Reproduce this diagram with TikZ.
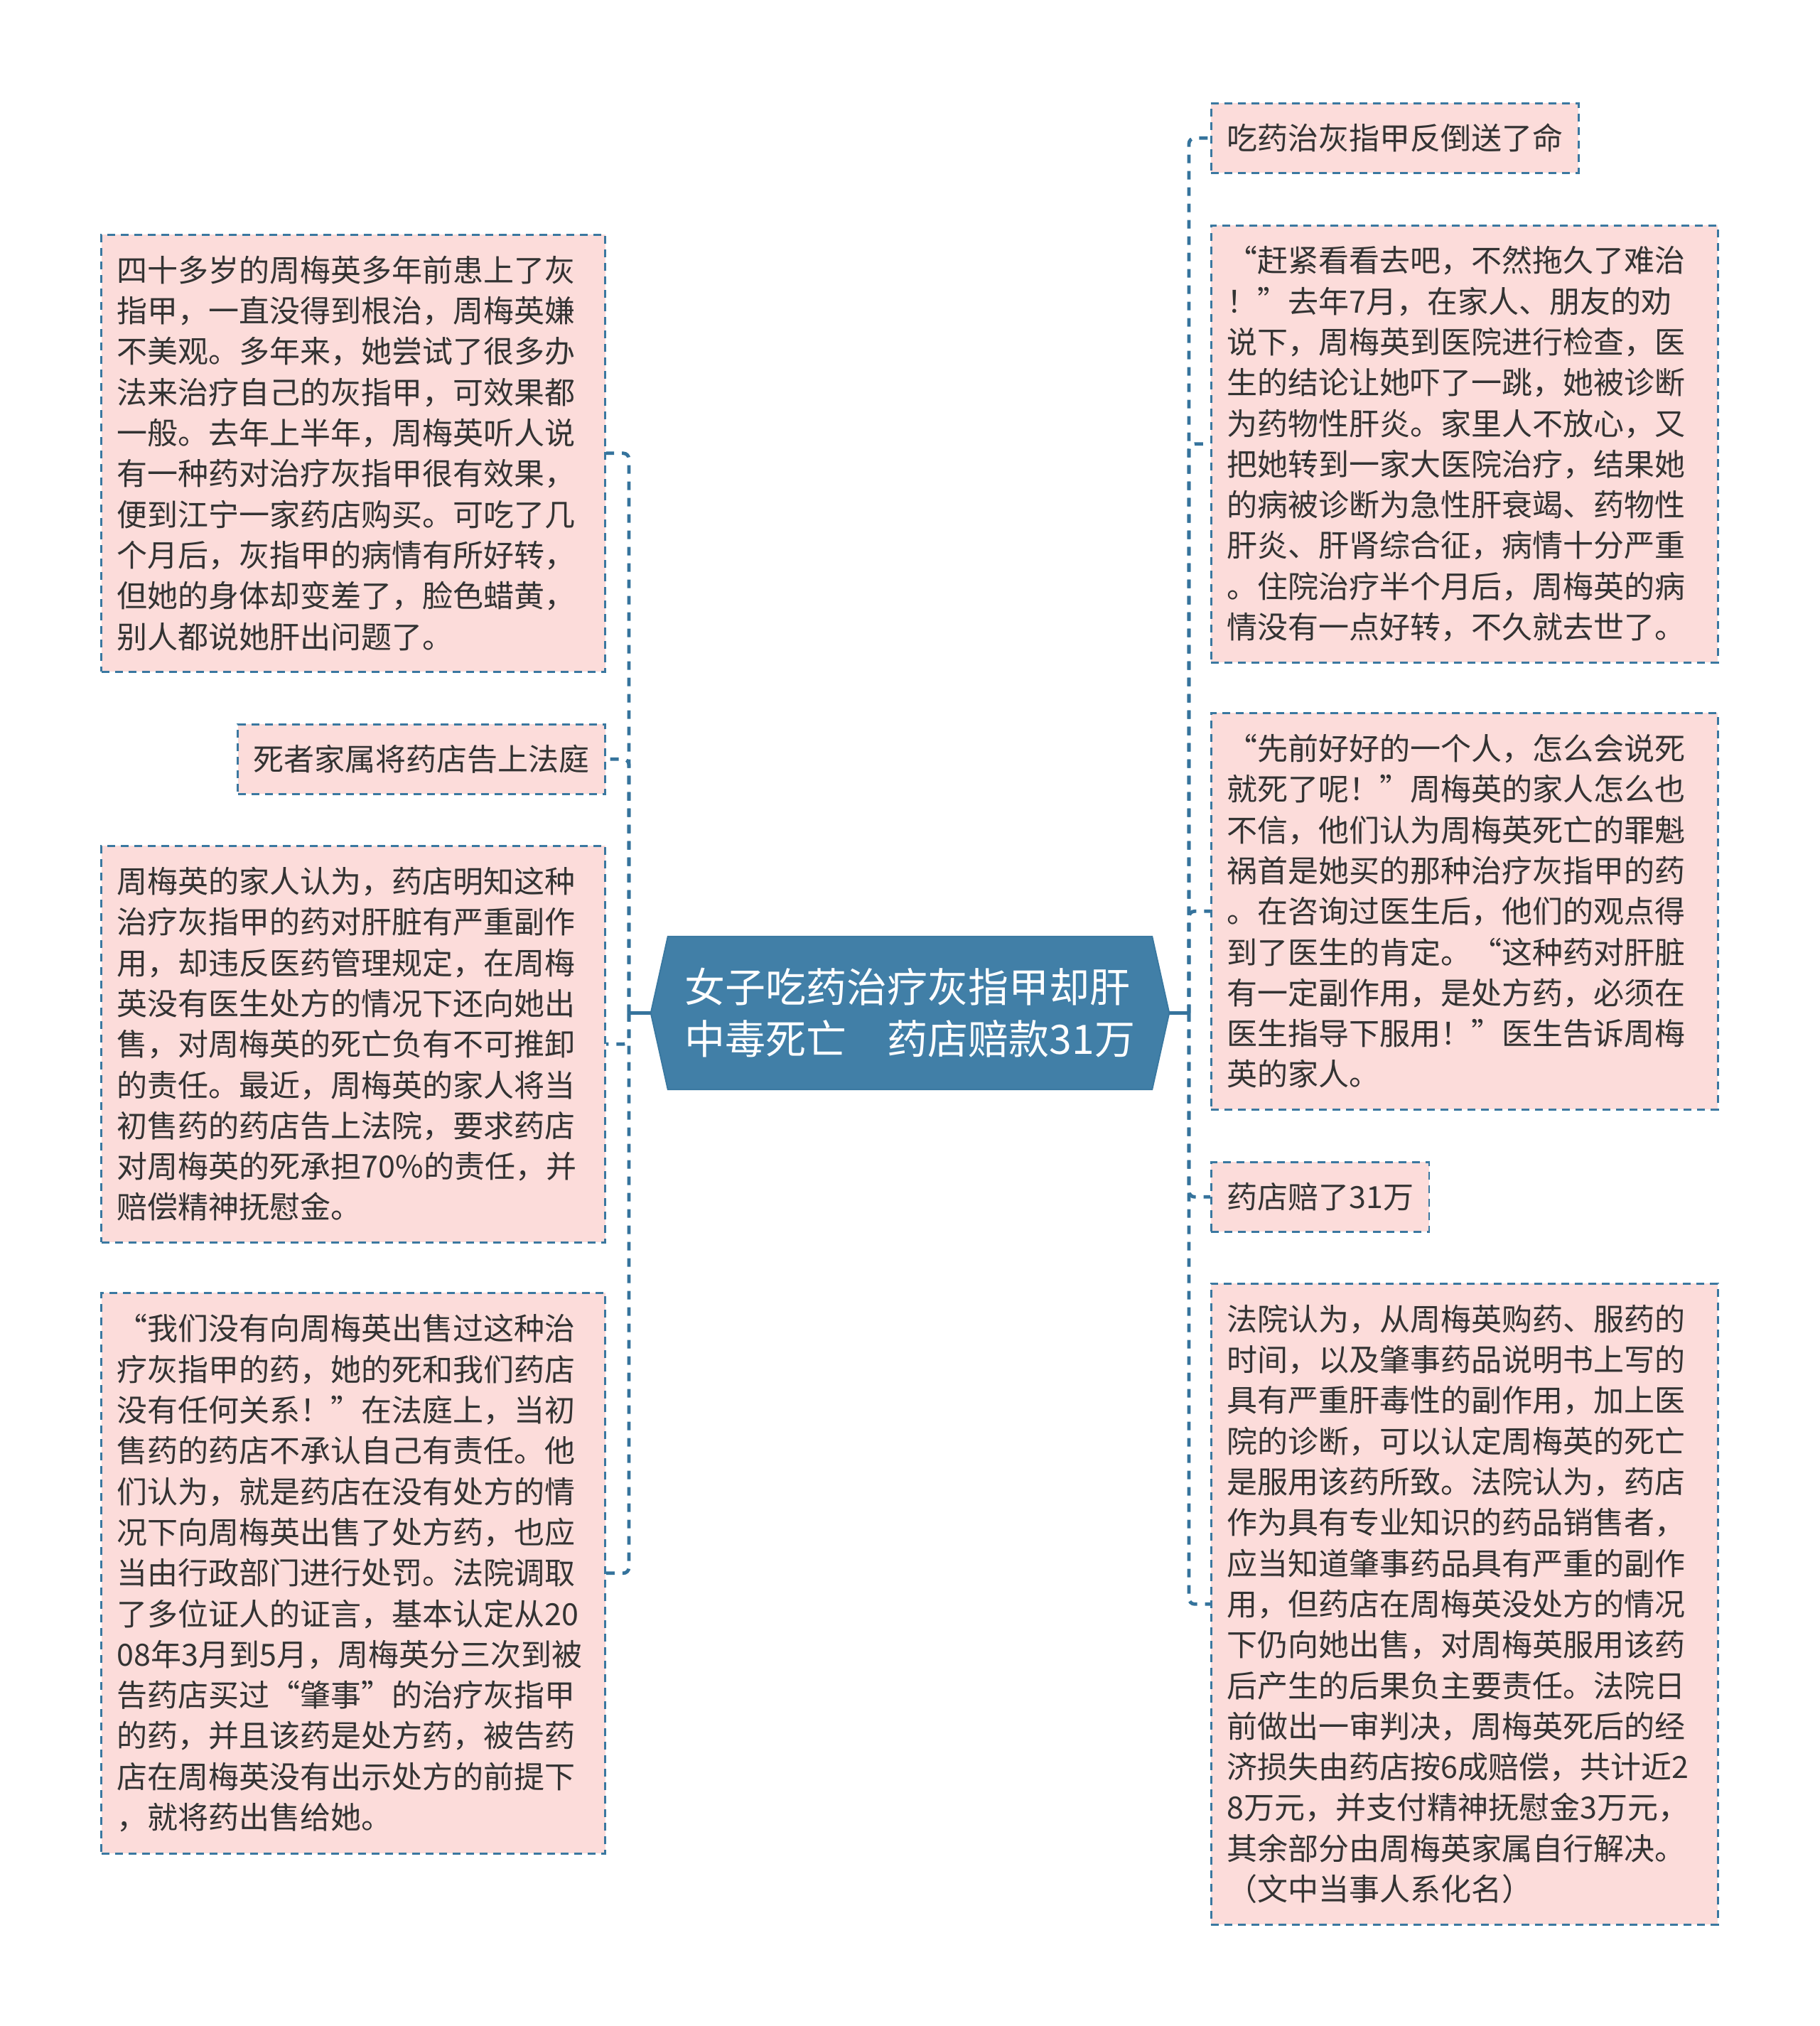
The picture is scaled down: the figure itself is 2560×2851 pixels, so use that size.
\documentclass[tikz,border=0pt]{standalone}
\usepackage{fontspec}
\setmainfont{Noto Sans CJK SC}
\usetikzlibrary{backgrounds}
\definecolor{linec}{HTML}{3A78A0}
\definecolor{connc}{HTML}{35739C}
\definecolor{rootc}{HTML}{417FA7}
\definecolor{pinkc}{HTML}{FCDCDA}
\definecolor{textc}{HTML}{333333}
\tikzset{
  leaf/.style={draw=linec, fill=pinkc, dash pattern=on 11pt off 8pt, line width=2.6pt,
    text=textc, align=left, inner xsep=22pt, inner ysep=0pt,
    font=\fontsize{43pt}{57.3pt}\selectfont},
  rootnode/.style={text=white, align=left, minimum width=729pt, minimum height=215pt,
    inner sep=0pt, font=\fontsize{57pt}{73pt}\selectfont},
  hexshape/.style={fill=rootc, draw=linec, line width=2pt},
  stub/.style={draw=connc, line width=4.8pt},
  conn/.style={draw=connc, line width=4.8pt, dash pattern=on 12pt off 11pt, rounded corners=8pt},
}
\begin{document}
\begin{tikzpicture}[x=1pt,y=-1pt]
\useasboundingbox (0,0) rectangle (2560,2851);
\node[rootnode] (root) at (1280.5,1425.5) {女子吃药治疗灰指甲却肝\\中毒死亡　药店赔款31万};
\begin{pgfonlayer}{background}
\fill[white] (0,0) rectangle (2560,2851);
\draw[hexshape] ([xshift=24pt]root.north west) -- ([xshift=-24pt]root.north east) -- (root.east)
  -- ([xshift=-24pt]root.south east) -- ([xshift=24pt]root.south west) -- (root.west) -- cycle;
\end{pgfonlayer}
\coordinate (tl) at (885,1425.5);
\coordinate (tr) at (1673,1425.5);

% left boxes
\node[leaf, anchor=north east, text width=665pt, minimum height=615pt] (l1) at (853,329) {四十多岁的周梅英多年前患上了灰\\指甲，一直没得到根治，周梅英嫌\\不美观。多年来，她尝试了很多办\\法来治疗自己的灰指甲，可效果都\\一般。去年上半年，周梅英听人说\\有一种药对治疗灰指甲很有效果，\\便到江宁一家药店购买。可吃了几\\个月后，灰指甲的病情有所好转，\\但她的身体却变差了，脸色蜡黄，\\别人都说她肝出问题了。};
\node[leaf, anchor=north east, minimum height=98pt] (l2) at (853,1018) {死者家属将药店告上法庭};
\node[leaf, anchor=north east, text width=665pt, minimum height=558pt] (l3) at (853,1189) {周梅英的家人认为，药店明知这种\\治疗灰指甲的药对肝脏有严重副作\\用，却违反医药管理规定，在周梅\\英没有医生处方的情况下还向她出\\售，对周梅英的死亡负有不可推卸\\的责任。最近，周梅英的家人将当\\初售药的药店告上法院，要求药店\\对周梅英的死承担70\%的责任，并\\赔偿精神抚慰金。};
\node[leaf, anchor=north east, text width=665pt, minimum height=789pt] (l4) at (853,1818) {“我们没有向周梅英出售过这种治\\疗灰指甲的药，她的死和我们药店\\没有任何关系！”在法庭上，当初\\售药的药店不承认自己有责任。他\\们认为，就是药店在没有处方的情\\况下向周梅英出售了处方药，也应\\当由行政部门进行处罚。法院调取\\了多位证人的证言，基本认定从20\\08年3月到5月，周梅英分三次到被\\告药店买过“肇事”的治疗灰指甲\\的药，并且该药是处方药，被告药\\店在周梅英没有出示处方的前提下\\，就将药出售给她。};

% right boxes
\node[leaf, anchor=north west, minimum height=98pt] (r1) at (1703,144) {吃药治灰指甲反倒送了命};
\node[leaf, anchor=north west, text width=669pt, minimum height=615pt] (r2) at (1703,316) {“赶紧看看去吧，不然拖久了难治\\！”去年7月，在家人、朋友的劝\\说下，周梅英到医院进行检查，医\\生的结论让她吓了一跳，她被诊断\\为药物性肝炎。家里人不放心，又\\把她转到一家大医院治疗，结果她\\的病被诊断为急性肝衰竭、药物性\\肝炎、肝肾综合征，病情十分严重\\。住院治疗半个月后，周梅英的病\\情没有一点好转，不久就去世了。};
\node[leaf, anchor=north west, text width=669pt, minimum height=558pt] (r3) at (1703,1002) {“先前好好的一个人，怎么会说死\\就死了呢！”周梅英的家人怎么也\\不信，他们认为周梅英死亡的罪魁\\祸首是她买的那种治疗灰指甲的药\\。在咨询过医生后，他们的观点得\\到了医生的肯定。“这种药对肝脏\\有一定副作用，是处方药，必须在\\医生指导下服用！”医生告诉周梅\\英的家人。};
\node[leaf, anchor=north west, minimum height=98pt] (r4) at (1703,1634) {药店赔了31万};
\node[leaf, anchor=north west, text width=669pt, minimum height=902pt] (r5) at (1703,1805) {法院认为，从周梅英购药、服药的\\时间，以及肇事药品说明书上写的\\具有严重肝毒性的副作用，加上医\\院的诊断，可以认定周梅英的死亡\\是服用该药所致。法院认为，药店\\作为具有专业知识的药品销售者，\\应当知道肇事药品具有严重的副作\\用，但药店在周梅英没处方的情况\\下仍向她出售，对周梅英服用该药\\后产生的后果负主要责任。法院日\\前做出一审判决，周梅英死后的经\\济损失由药店按6成赔偿，共计近2\\8万元，并支付精神抚慰金3万元，\\其余部分由周梅英家属自行解决。\\（文中当事人系化名）};

% connectors
\begin{pgfonlayer}{background}
\draw[stub] (root.west) -- (tl);
\draw[stub] (root.east) -- (tr);
\foreach \n in {l1,l2,l3,l4} \draw[conn] (tl) |- (\n.east);
\foreach \n in {r1,r2,r3,r4,r5} \draw[conn] (tr) |- (\n.west);
\end{pgfonlayer}
\end{tikzpicture}
\end{document}
